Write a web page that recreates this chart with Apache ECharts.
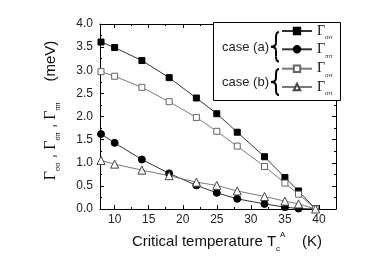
<!DOCTYPE html>
<html>
<head>
<meta charset="utf-8">
<script src="https://cdn.jsdelivr.net/npm/echarts@6/dist/echarts.min.js"></script>
<style>
html,body{margin:0;padding:0;background:#fff;}
#c{width:374px;height:260px;}
</style>
</head>
<body>
<div id="c"></div>
<script>
// ---- data ----
var temps = [8, 10, 14, 18, 22, 25, 28, 32, 35, 37, 39.5];
var gssA = [3.61, 3.49, 3.21, 2.84, 2.40, 2.06, 1.66, 1.13, 0.68, 0.39, 0];
var gppA = [1.62, 1.43, 1.07, 0.77, 0.51, 0.35, 0.22, 0.11, 0.04, 0.01, 0];
var gssB = [2.97, 2.87, 2.63, 2.32, 1.98, 1.68, 1.36, 0.92, 0.56, 0.32, 0];
var gspB = [1.05, 0.97, 0.84, 0.72, 0.58, 0.51, 0.39, 0.27, 0.17, 0.11, 0];
var xMajorTicks = [10, 15, 20, 25, 30, 35, 40];
var xMinorTicks = [12.5, 17.5, 22.5, 27.5, 32.5, 37.5, 42.5];
var seriesNames = ['A_ss', 'A_pp', 'B_ss', 'B_sp'];
var legendLabels = {A_ss: 'σσ', A_pp: 'ππ', B_ss: 'σσ', B_sp: 'σπ'};
var caseLabels = ['case (a)', 'case (b)'];

function pairs(xs, ys) { return xs.map(function (x, i) { return [x, ys[i]]; }); }

var SANS = 'Liberation Sans, Arial, sans-serif';
var SERIF = 'Liberation Serif, Times New Roman, serif';
var X_MIN = 7.85, X_MAX = 42.5;

function xAxisDef(pos, ticks, len, showLine, showLabel) {
  return {
    type: 'value', position: pos, min: X_MIN, max: X_MAX,
    axisLine: {show: showLine, onZero: false, lineStyle: {color: '#000', width: 1}},
    axisTick: {show: true, inside: true, length: len, customValues: ticks, lineStyle: {color: '#000'}},
    axisLabel: showLabel ? {show: true, customValues: xMajorTicks, fontSize: 12, fontFamily: SANS, color: '#222', margin: 5} : {show: false},
    splitLine: {show: false}
  };
}

var xa0 = xAxisDef('bottom', xMajorTicks, 4, true, true);
xa0.name = '{t|Critical temperature T}{sub|c}{sup|A}{t|    (K)}';
xa0.nameLocation = 'middle';
xa0.nameGap = 17;
xa0.nameTextStyle = {
  padding: [0, 0, 0, 18],
  rich: {
    t: {fontSize: 15, fontFamily: SANS, color: '#111', lineHeight: 22},
    sub: {fontSize: 8, fontFamily: SANS, color: '#111', verticalAlign: 'bottom', lineHeight: 8},
    sup: {fontSize: 8, fontFamily: SANS, color: '#111', verticalAlign: 'top', lineHeight: 10}
  }
};

function yAxisDef(pos, showLabel) {
  return {
    type: 'value', position: pos, min: 0, max: 4, interval: 0.5,
    axisLine: {show: true, onZero: false, lineStyle: {color: '#000', width: 1}},
    axisTick: {show: true, inside: true, length: 4, lineStyle: {color: '#000'}},
    minorTick: {show: true, splitNumber: 2, length: 2, lineStyle: {color: '#000'}},
    axisLabel: showLabel ? {show: true, fontSize: 12, fontFamily: SANS, color: '#222', margin: 7,
      formatter: function (v) { return v.toFixed(1); }} : {show: false},
    splitLine: {show: false}
  };
}
var ya0 = yAxisDef('left', true);
ya0.name = '{g|Γ}{s|σσ}{c| , }{g|Γ}{s|σπ}{c| , }{g|Γ}{s|ππ}{c|     (meV)}';
ya0.nameLocation = 'middle';
ya0.nameRotate = 90;
ya0.nameGap = 38;
ya0.nameTextStyle = {
  padding: [0, 0, 0, 12],
  rich: {
    g: {fontSize: 16, fontFamily: SERIF, color: '#111', lineHeight: 22},
    s: {fontSize: 8, fontFamily: SERIF, color: '#111', verticalAlign: 'bottom', lineHeight: 8},
    c: {fontSize: 15, fontFamily: SANS, color: '#111', lineHeight: 22}
  }
};

var darkLine = '#333', greyLine = '#7a7a7a';
function mkSeries(name, ys, symbol, size, fill, stroke, lineColor) {
  return {
    name: name, type: 'line', data: pairs(temps, ys),
    xAxisIndex: 0, yAxisIndex: 0,
    symbol: symbol, symbolSize: size, showSymbol: true, clip: true,
    lineStyle: {color: lineColor, width: 1},
    itemStyle: {color: fill, borderColor: stroke, borderWidth: 1},
    emphasis: {disabled: true}, silent: true, z: 2
  };
}

var series = [
  mkSeries('A_ss', gssA, 'rect', 6, '#000', '#000', darkLine),
  mkSeries('A_pp', gppA, 'circle', 7, '#000', '#000', darkLine),
  mkSeries('B_ss', gssB, 'rect', 6, '#fff', '#666', greyLine),
  mkSeries('B_sp', gspB, 'triangle', 8, '#fff', '#444', greyLine)
];

var legendY = [34, 52.3, 71.7, 90];
var legends = seriesNames.map(function (n, i) {
  return {
    data: [n], orient: 'vertical', left: 281, top: legendY[i] - 10, padding: 0,
    itemWidth: 30, itemHeight: 8, itemGap: 0, selectedMode: false, z: 6,
    formatter: function (name) { return '{g|Γ}{s|' + legendLabels[name] + '}'; },
    textStyle: {
      rich: {
        g: {fontSize: 14, fontFamily: SERIF, color: '#111', lineHeight: 20},
        s: {fontSize: 7, fontFamily: SERIF, color: '#111', verticalAlign: 'bottom', lineHeight: 6}
      }
    }
  };
});

function braceParts(top, bottom, xr, xl) {
  var mid = (top + bottom) / 2, xm = (xr + xl) / 2 + 1;
  var st = {fill: null, stroke: '#000', lineWidth: 2};
  function bz(x1, y1, cx, cy, x2, y2) {
    return {type: 'bezierCurve', z: 6, shape: {x1: x1, y1: y1, cpx1: cx, cpy1: cy, x2: x2, y2: y2}, style: st};
  }
  function ln(x1, y1, x2, y2) {
    return {type: 'line', z: 6, shape: {x1: x1, y1: y1, x2: x2, y2: y2}, style: st};
  }
  return [
    bz(xr, top, xm, top, xm, top + 5),
    ln(xm, top + 5, xm, mid - 4),
    bz(xm, mid - 4, xm, mid, xl, mid),
    bz(xl, mid, xm, mid, xm, mid + 4),
    ln(xm, mid + 4, xm, bottom - 5),
    bz(xm, bottom - 5, xm, bottom, xr, bottom)
  ];
}

var graphics = [
  {type: 'rect', z: 5, shape: {x: 213.5, y: 22.5, width: 127, height: 78},
    style: {fill: '#fff', stroke: '#000', lineWidth: 1}},
  {type: 'text', z: 6, x: 222, y: 47, style: {text: caseLabels[0], font: '13px ' + SANS, fill: '#222', verticalAlign: 'middle'}},
  {type: 'text', z: 6, x: 222, y: 82, style: {text: caseLabels[1], font: '13px ' + SANS, fill: '#222', verticalAlign: 'middle'}}
].concat(braceParts(32, 61.5, 279, 271)).concat(braceParts(69, 95, 279, 271));

var option = {
  animation: false,
  backgroundColor: '#fff',
  grid: {left: 100, right: 38, top: 24, bottom: 51, containLabel: false},
  xAxis: [
    xa0,
    xAxisDef('bottom', xMinorTicks, 2, false, false),
    xAxisDef('top', xMajorTicks, 4, true, false),
    xAxisDef('top', xMinorTicks, 2, false, false)
  ],
  yAxis: [ya0, yAxisDef('right', false)],
  legend: legends,
  series: series,
  graphic: graphics
};

var chart = echarts.init(document.getElementById('c'), null, {renderer: 'canvas'});
chart.setOption(option);
</script>
</body>
</html>
